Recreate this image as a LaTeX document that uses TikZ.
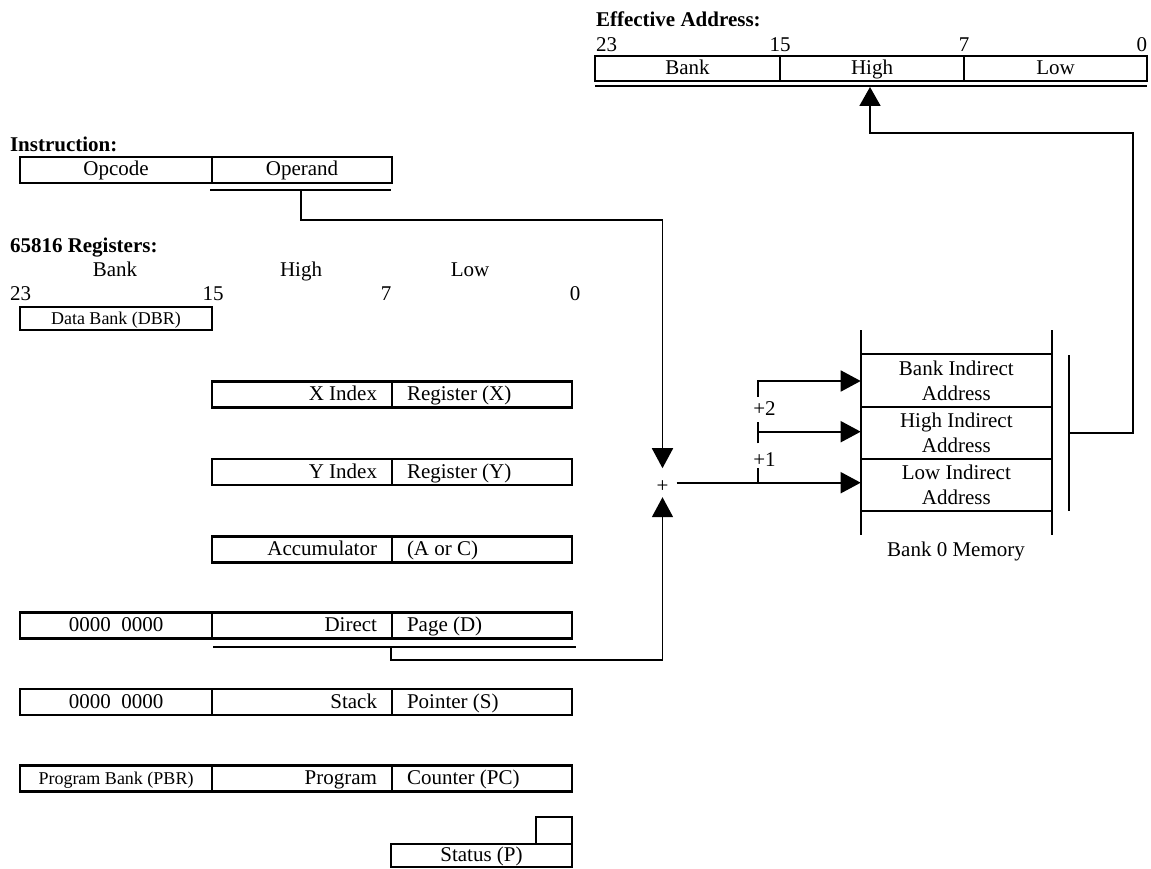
\documentclass[tikz,border=0pt]{standalone}
\usepackage{fontspec}
\setmainfont{Liberation Serif}
\usetikzlibrary{arrows.meta,calc}
\newcommand{\rtext}[1]{\makebox[150pt][r]{#1}}
\newcommand{\ltext}[1]{\makebox[150pt][l]{#1}}
\begin{document}
\begin{tikzpicture}[x=1pt,y=-1pt,
  every node/.style={inner sep=0pt, outer sep=0pt, font=\fontsize{21}{25}\selectfont, text height=14pt, text depth=2pt},
  box/.style={draw, line width=2.2pt, minimum height=26pt},
  ccell/.style={box, align=center},
  lcell/.style={box, inner xsep=15pt},
  rcell/.style={box, inner xsep=15pt},
  small/.style={font=\fontsize{18}{22}\selectfont},
  head/.style={font=\bfseries\fontsize{21}{25}\selectfont, anchor=west},
  mem/.style={draw, line width=2pt, minimum width=191.3pt, align=center, text height=, text depth=},
  conn/.style={line width=1.8pt},
  tip/.style={-{Triangle[width=21pt,length=20pt]}},
  uline/.style={line width=2pt}
]
\fill[white] (0,0) rectangle (1151,869);
\useasboundingbox (0,0) rectangle (1151,869);

% ---------- Effective address ----------
\node[head] (eah) at (596,21) {Effective Address:};
\node[anchor=west] (e23) at (596,45.5) {23};
\node (e15) at (780,45.5) {15};
\node (e7) at (964,45.5) {7};
\node[anchor=east] (e0) at (1147,45.5) {0};
\node[ccell, minimum width=185pt, minimum height=25pt] (ebank) at (687.5,68.5) {Bank};
\node[ccell, minimum width=184pt, minimum height=25pt] (ehigh) at (872,68.5) {High};
\node[ccell, minimum width=183pt, minimum height=25pt] (elow) at (1055.5,68.5) {Low};
\draw[uline] (595,86) -- (1147,86);

% ---------- Instruction ----------
\node[head] (insh) at (10,145.5) {Instruction:};
\node[ccell, minimum width=192pt] (opcode) at (116,170) {Opcode};
\node[ccell, minimum width=180pt] (operand) at (302,170) {Operand};
\draw[uline] (210,190) -- (391,190);

% ---------- Registers ----------
\node[head] (regh) at (10,246) {65816 Registers:};
\node (rbank) at (115,270) {Bank};
\node (rhigh) at (301,270) {High};
\node (rlow) at (470,270) {Low};
\node[anchor=west] (r23) at (10,294.5) {23};
\node (r15) at (213,294.5) {15};
\node (r7) at (386,294.5) {7};
\node (r0) at (575,294.5) {0};

\node[ccell, small, minimum width=192pt, minimum height=23pt] (dbr) at (116,318.5) {Data Bank (DBR)};

\node[lcell] (xl) at (302,394.5) {\rtext{X Index}};
\node[rcell] (xr) at (482,394.5) {\ltext{Register (X)}};

\node[lcell] (yl) at (302,472) {\rtext{Y Index}};
\node[rcell] (yr) at (482,472) {\ltext{Register (Y)}};

\node[lcell] (al) at (302,549.5) {\rtext{Accumulator}};
\node[rcell] (ar) at (482,549.5) {\ltext{(A or C)}};

\node[ccell, minimum width=192pt] (dz) at (116,625.5) {0000\ \ 0000};
\node[lcell] (dl) at (302,625.5) {\rtext{Direct}};
\node[rcell] (dr) at (482,625.5) {\ltext{Page (D)}};
\draw[uline] (213,647) -- (576,647);

\node[ccell, minimum width=192pt] (sz) at (116,702) {0000\ \ 0000};
\node[lcell] (sl) at (302,702) {\rtext{Stack}};
\node[rcell] (sr) at (482,702) {\ltext{Pointer (S)}};

\node[ccell, small, minimum width=192pt] (pbr) at (116,778.5) {Program Bank (PBR)};
\node[lcell] (pl) at (302,778.5) {\rtext{Program}};
\node[rcell] (pr) at (482,778.5) {\ltext{Counter (PC)}};

\node[ccell, minimum width=36pt, minimum height=27pt] (pflag) at (554,830.5) {};
\node[ccell, minimum width=181pt, minimum height=23pt] (status) at (481.5,855.5) {Status (P)};

% ---------- Adder ----------
\node[minimum width=28pt, minimum height=29pt] (plus) at (662.5,482.7) {\raisebox{-4pt}{+}};

% ---------- Bank 0 memory ----------
\node[mem, minimum height=53pt] (mbank) at (956.35,380.8) {Bank Indirect\\Address};
\node[mem, minimum height=51.7pt] (mhigh) at (956.35,433.15) {High Indirect\\Address};
\node[mem, minimum height=52pt] (mlow) at (956.35,485) {Low Indirect\\Address};
\draw[line width=2pt] (mbank.north west) -- +(0,-24.3) (mbank.north east) -- +(0,-24.3)
  (mlow.south west) -- +(0,24) (mlow.south east) -- +(0,24);
\node (b0m) at (956,550) {Bank 0 Memory};

\node (p2) at (764.5,409.3) {+2};
\node (p1) at (764.5,460.7) {+1};

% ---------- Connectors ----------
\coordinate (opu) at (301,190);
\coordinate (c1) at (662.5,220);
\draw[conn,tip] (opu) |- (c1) -- (plus.north);

\coordinate (dpu) at (391,647);
\coordinate (c2) at (662.5,660);
\draw[conn,tip] (dpu) |- (c2) -- (plus.south);

\draw[conn,tip] (plus.east) -- (plus.east -| mlow.west);
\coordinate (t1) at (757.7,482.7);
\draw[conn] (t1) -- ++(0,-15);

\coordinate (a2) at (757.7,431.7);
\draw[conn] (757.7,443.3) -- (757.7,421.7);
\draw[conn,tip] (a2) -- (a2 -| mhigh.west);

\coordinate (a3) at (757.7,381);
\draw[conn,tip] (757.7,396.7) -- (a3) -- (a3 -| mbank.west);

\draw[conn] (1068.7,355) -- (1068.7,511);
\coordinate (brk) at (1068.7,432.7);
\coordinate (r1) at (1132.7,432.7);
\coordinate (r2) at (1132.7,133);
\coordinate (eatip) at (870,87);
\draw[conn,-{Triangle[width=21pt,length=19pt]}] (brk) -- (r1) -- (r2) -| (eatip);
\end{tikzpicture}
\end{document}
